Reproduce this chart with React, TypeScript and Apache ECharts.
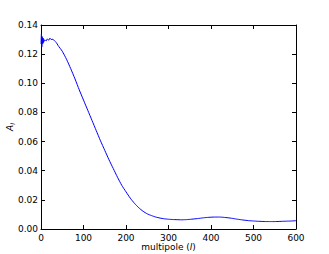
import React, { useEffect, useRef } from "react";
import * as echarts from "echarts";

const multipoles: number[] = [
  0, 1, 2, 3, 4, 5, 6, 7, 8, 10, 12, 15, 18, 21, 24, 28, 32, 36, 40, 50, 60, 70,
  80, 90, 100, 110, 120, 130, 140, 150, 160, 170, 180, 190, 200, 210, 220, 230,
  240, 250, 260, 270, 280, 290, 300, 310, 320, 330, 340, 350, 360, 370, 380,
  390, 400, 410, 420, 430, 440, 450, 460, 470, 480, 490, 500, 510, 520, 530,
  540, 550, 560, 570, 580, 590, 600,
];
const amplitudes: number[] = [
  0.127, 0.134, 0.125, 0.132, 0.127, 0.131, 0.128, 0.13, 0.129, 0.1295, 0.129,
  0.1305, 0.1295, 0.131, 0.13, 0.1302, 0.129, 0.128, 0.126, 0.122, 0.1165, 0.11,
  0.103, 0.0955, 0.0885, 0.0815, 0.0745, 0.0675, 0.0605, 0.054, 0.0475, 0.0415,
  0.0355, 0.03, 0.0255, 0.0212, 0.0176, 0.0146, 0.0122, 0.0104, 0.0092, 0.0082,
  0.0075, 0.007, 0.0067, 0.0065, 0.0064, 0.0063, 0.0064, 0.0066, 0.0069,
  0.0072, 0.0076, 0.0079, 0.0081, 0.0082, 0.0082, 0.008, 0.0077, 0.0073,
  0.0068, 0.0064, 0.006, 0.0057, 0.0055, 0.0053, 0.0052, 0.0051, 0.0051,
  0.0051, 0.0052, 0.0053, 0.0054, 0.0055, 0.0057,
];
const xTicks = { min: 0, max: 600, interval: 100 };
const yTicks = { min: 0, max: 0.14, interval: 0.02 };

const FONT = "DejaVu Sans";

export default function App() {
  const ref = useRef<HTMLDivElement>(null);
  useEffect(() => {
    if (!ref.current) return;
    const chart = echarts.init(ref.current, undefined, { renderer: "svg" });
    const axisLine = { show: true, onZero: false, lineStyle: { color: "#000", width: 1 } };
    const tick = { show: true, inside: true, length: 4, lineStyle: { color: "#000", width: 1 } };
    const label = { color: "#000", fontFamily: FONT, fontSize: 9 };
    chart.setOption({
      animation: false,
      backgroundColor: "#fff",
      grid: { left: 41, right: 33, top: 25, bottom: 25, containLabel: false, outerBoundsMode: "none" },
      xAxis: [
        {
          type: "value",
          ...xTicks,
          axisLine,
          axisTick: tick,
          splitLine: { show: false },
          axisLabel: { ...label, margin: 4, showMaxLabel: true, showMinLabel: true },
          name: "{n|multipole (}{i|l}{n|)}",
          nameLocation: "middle",
          nameGap: 13,
          nameMoveOverlap: false,
          nameTextStyle: {
            rich: {
              n: { fontFamily: FONT, fontSize: 9, color: "#000" },
              i: { fontFamily: FONT, fontSize: 9, fontStyle: "italic", color: "#000" },
            },
          },
        },
        {
          type: "value",
          position: "top",
          ...xTicks,
          axisLine,
          axisTick: tick,
          splitLine: { show: false },
          axisLabel: { show: false },
        },
      ],
      yAxis: [
        {
          type: "value",
          ...yTicks,
          axisLine,
          axisTick: tick,
          splitLine: { show: false },
          axisLabel: {
            ...label,
            margin: 3,
            formatter: (v: number) => v.toFixed(2),
          },
          name: "{a|A}{s|l}",
          nameLocation: "middle",
          nameGap: 26,
          nameMoveOverlap: false,
          nameRotate: 90,
          nameTextStyle: {
            rich: {
              a: { fontFamily: FONT, fontSize: 9, fontStyle: "italic", color: "#000" },
              s: { fontFamily: FONT, fontSize: 6, fontStyle: "italic", color: "#000", padding: [4, 0, 0, 0] },
            },
          },
        },
        {
          type: "value",
          position: "right",
          ...yTicks,
          axisLine,
          axisTick: tick,
          splitLine: { show: false },
          axisLabel: { show: false },
        },
      ],
      series: [
        {
          type: "line",
          xAxisIndex: 0,
          yAxisIndex: 0,
          data: multipoles.map((l, i) => [l, amplitudes[i]]),
          showSymbol: false,
          smooth: 0.2,
          lineStyle: { color: "#0000ff", width: 1 },
          itemStyle: { color: "#0000ff" },
        },
      ],
    });
    return () => chart.dispose();
  }, []);
  return <div ref={ref} style={{ width: 329, height: 254, position: "absolute", left: 0, top: 0 }} />;
}
